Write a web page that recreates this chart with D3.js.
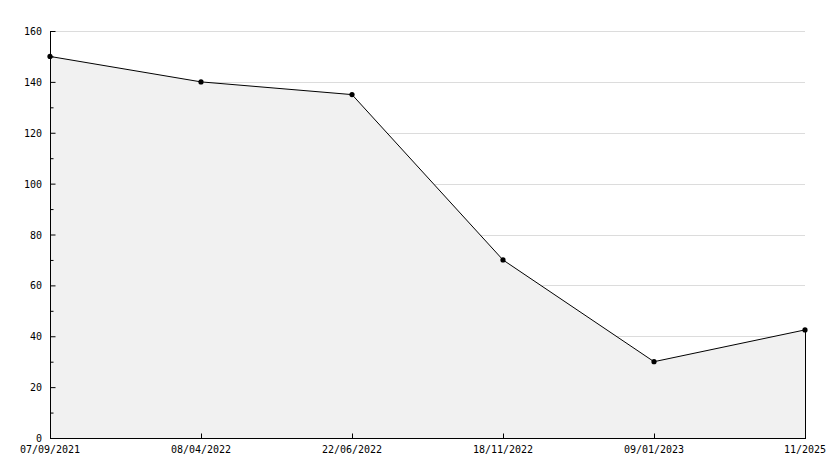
<!DOCTYPE html>
<html>
<head>
<meta charset="utf-8">
<script src="https://cdn.jsdelivr.net/npm/d3@7"></script>
<style>
body { margin: 0; background: #fff; }
text { font-family: "DejaVu Sans Mono", monospace; font-size: 10px; fill: #000; }
</style>
</head>
<body>
<script>
var dates = ["07/09/2021", "08/04/2022", "22/06/2022", "18/11/2022", "09/01/2023", "11/2025"];
var values = [150, 140, 135, 70, 30, 42.5];
var yTicks = [0, 20, 40, 60, 80, 100, 120, 140, 160];
var yMinor = [10, 30, 50, 70, 90, 110, 130, 150];

var W = 834, H = 468;
var plotL = 50, plotR = 805, plotT = 31, plotB = 438;

var svg = d3.select("body").append("svg")
    .attr("width", W)
    .attr("height", H);

var x = d3.scalePoint().domain(dates).range([plotL, plotR]);
var y = d3.scaleLinear().domain([0, 160]).range([plotB, plotT]);

// grid lines
svg.append("g").selectAll("line")
    .data(yTicks.slice(1))
    .enter().append("line")
    .attr("x1", plotL + 5).attr("x2", plotR)
    .attr("y1", d => Math.round(y(d)) + 0.5).attr("y2", d => Math.round(y(d)) + 0.5)
    .attr("stroke", "#dcdcdc");

var pts = dates.map((d, i) => [d, values[i]]);

// area
svg.append("path")
    .datum(pts)
    .attr("d", d3.area().x(d => x(d[0])).y0(plotB).y1(d => y(d[1])))
    .attr("fill", "#f1f1f1");

svg.append("line")
    .attr("x1", plotR + 0.5).attr("x2", plotR + 0.5)
    .attr("y1", y(values[values.length - 1])).attr("y2", plotB)
    .attr("stroke", "#000");

svg.append("path")
    .datum(pts)
    .attr("d", d3.line().x(d => x(d[0])).y(d => y(d[1])))
    .attr("fill", "none")
    .attr("stroke", "#000")
    .attr("stroke-width", 1);

// markers
svg.append("g").selectAll("circle")
    .data(pts)
    .enter().append("circle")
    .attr("cx", d => x(d[0]))
    .attr("cy", d => y(d[1]))
    .attr("r", 2.6)
    .attr("fill", "#000");

// y axis
var gy = svg.append("g").attr("transform", "translate(" + (plotL + 0.5) + ",0)")
    .call(d3.axisRight(y).tickValues(yTicks).tickSize(5).tickFormat(""));
gy.select(".domain").remove();
svg.append("g").attr("transform", "translate(" + (plotL + 0.5) + ",0)")
    .call(d3.axisRight(y).tickValues(yMinor).tickSize(3).tickFormat(""))
    .select(".domain").remove();
svg.append("line")
    .attr("x1", plotL + 0.5).attr("x2", plotL + 0.5)
    .attr("y1", plotT).attr("y2", plotB + 1)
    .attr("stroke", "#000");
svg.append("g").selectAll("text")
    .data(yTicks)
    .enter().append("text")
    .attr("x", plotL - 8)
    .attr("y", d => y(d) + 4)
    .attr("text-anchor", "end")
    .text(d => d);

// x axis
var gx = svg.append("g").attr("transform", "translate(0," + (plotB + 0.5) + ")")
    .call(d3.axisTop(x).tickSize(5).tickFormat(""));
gx.select(".domain").remove();
svg.append("line")
    .attr("x1", plotL).attr("x2", plotR + 1)
    .attr("y1", plotB + 0.5).attr("y2", plotB + 0.5)
    .attr("stroke", "#000");
svg.append("g").selectAll("text")
    .data(dates)
    .enter().append("text")
    .attr("x", x)
    .attr("y", plotB + 15)
    .attr("text-anchor", "middle")
    .text(d => d);
</script>
</body>
</html>
